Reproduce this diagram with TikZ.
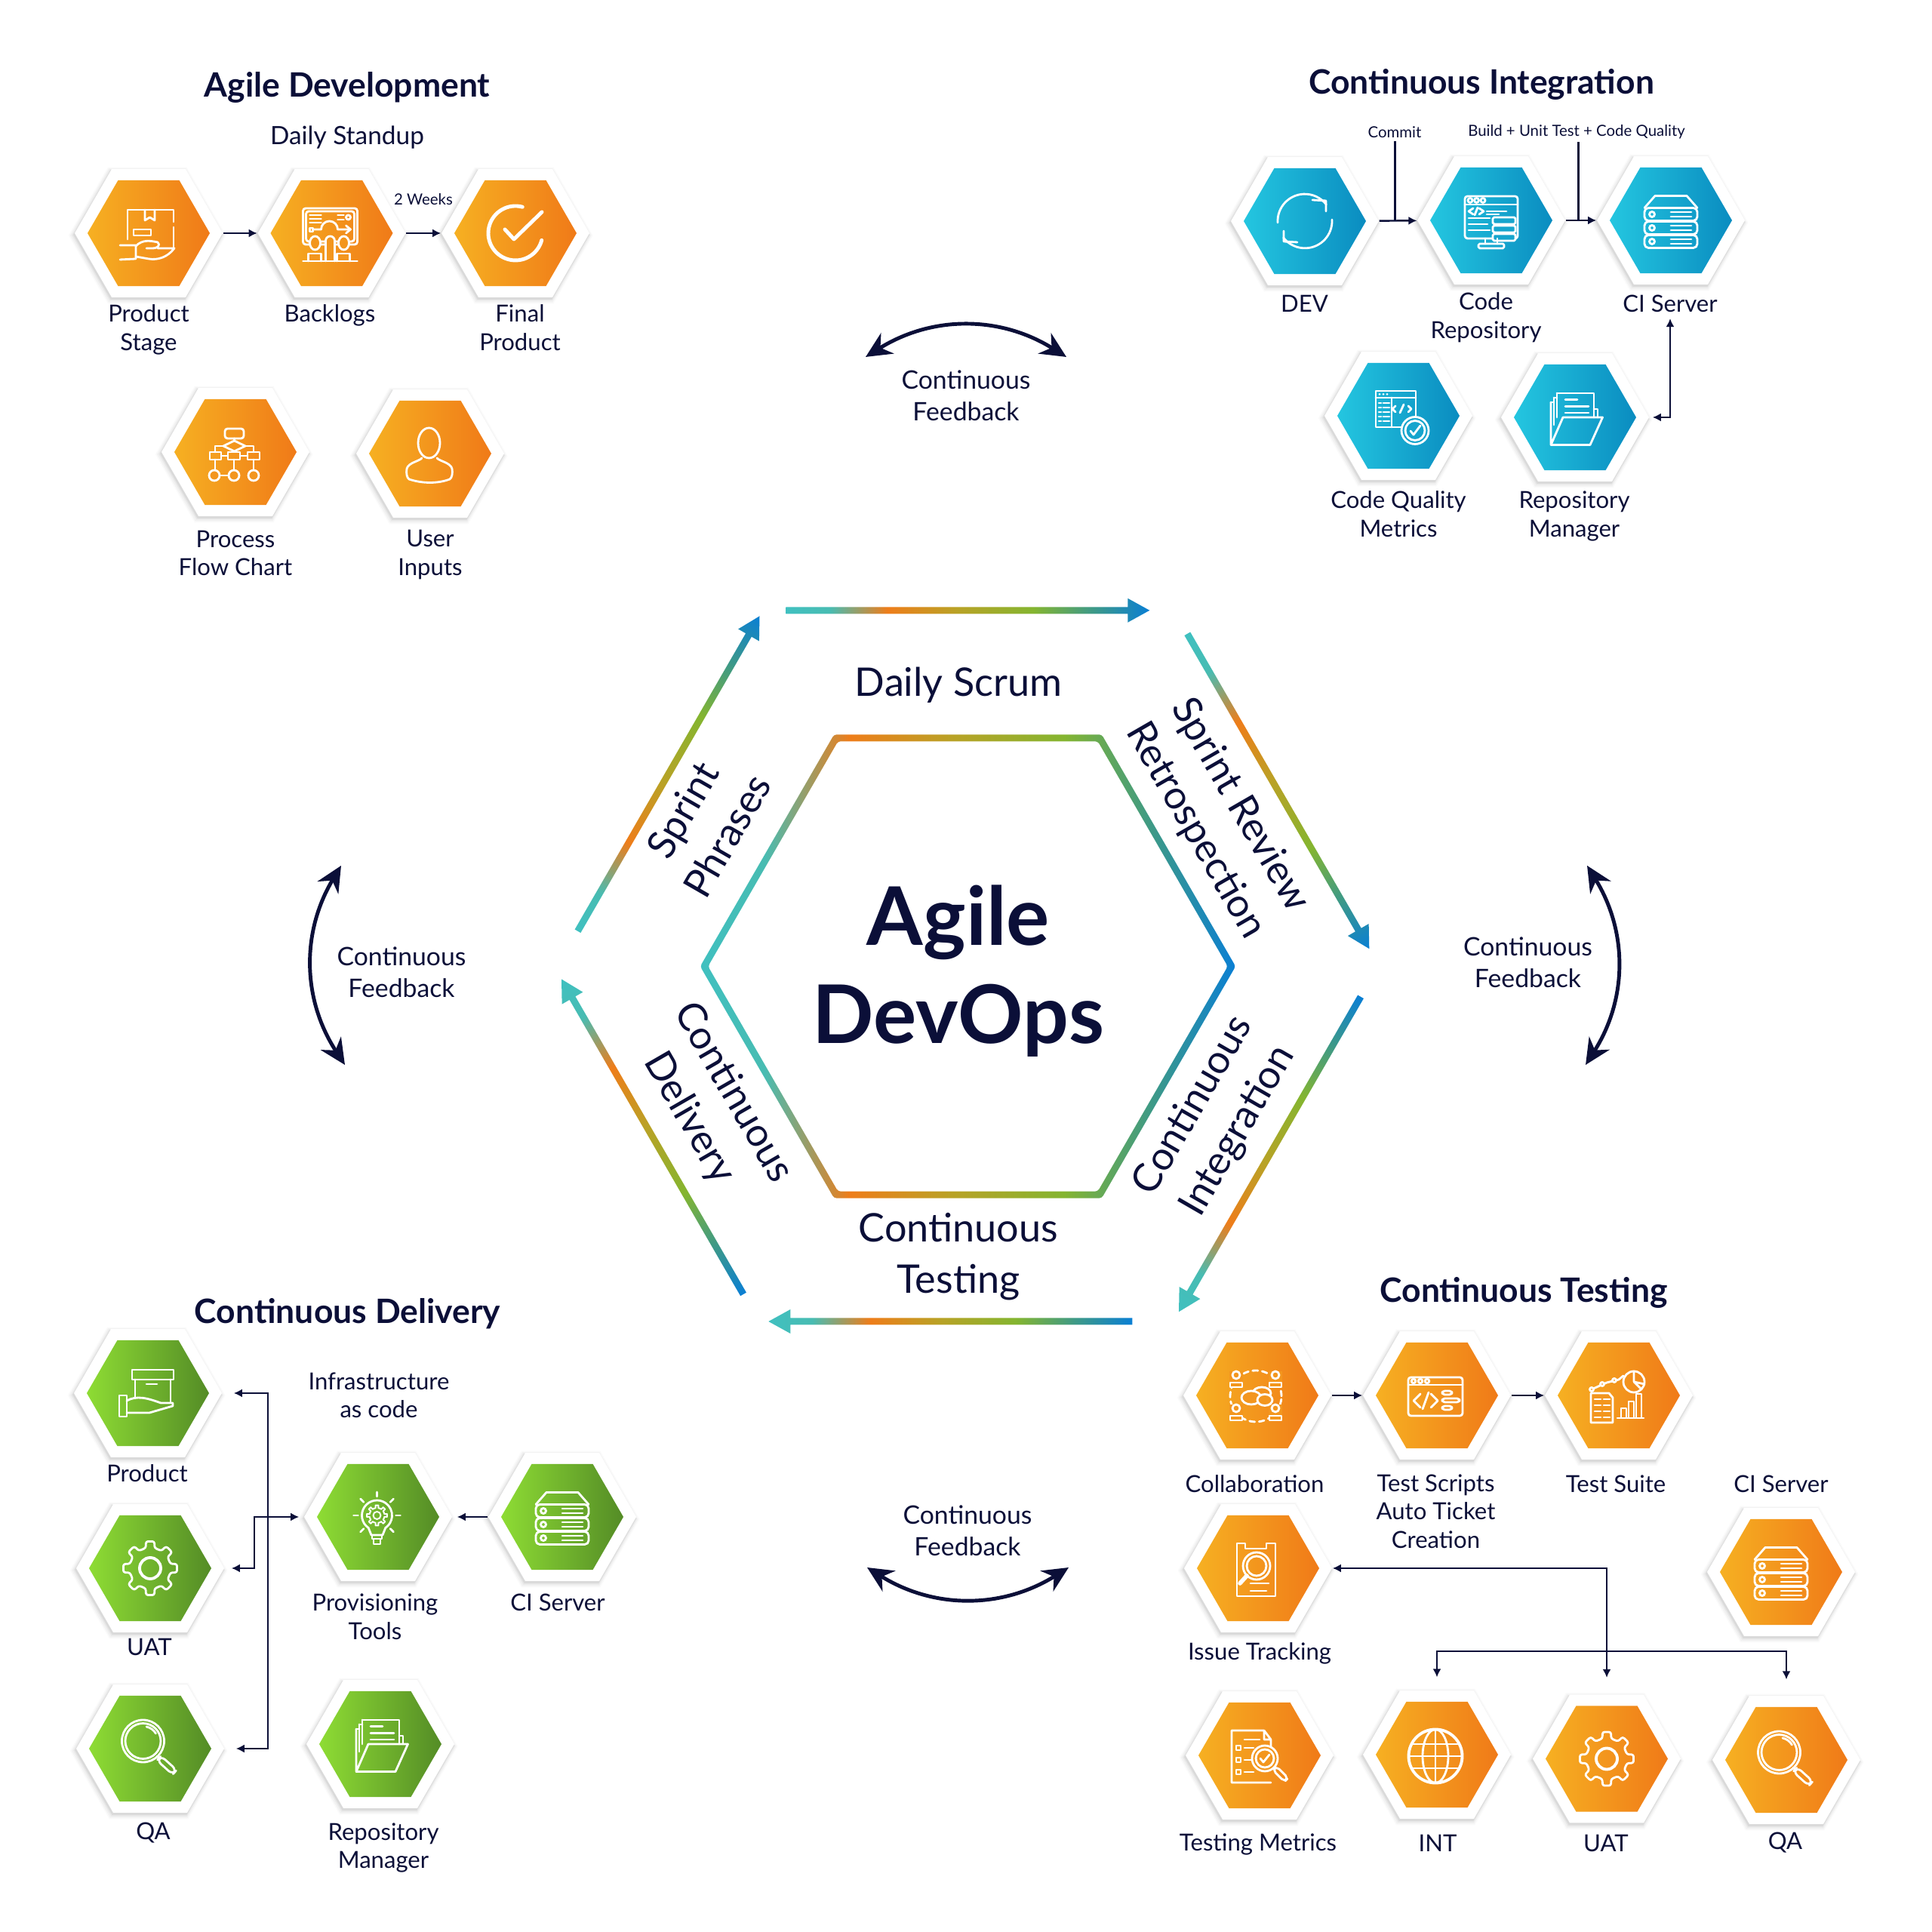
\documentclass[tikz,border=0pt]{standalone}
\usepackage{fontspec}
\setmainfont{Lato}
\usetikzlibrary{arrows.meta,shapes.geometric,shadows}
\definecolor{ink}{RGB}{11,15,56}
\definecolor{orangeA}{RGB}{246,176,34}
\definecolor{orangeB}{RGB}{240,122,24}
\definecolor{orangeM}{RGB}{243,150,30}
\definecolor{blueA}{RGB}{36,198,224}
\definecolor{blueB}{RGB}{10,140,192}
\definecolor{blueM}{RGB}{22,165,205}
\definecolor{greenA}{RGB}{142,220,52}
\definecolor{greenB}{RGB}{84,140,38}
\definecolor{flowteal}{RGB}{64,192,192}
\definecolor{flowmix}{RGB}{72,188,178}
\definecolor{floworange}{RGB}{238,125,26}
\definecolor{flowolive}{RGB}{185,162,38}
\definecolor{flowgreen}{RGB}{132,181,48}
\definecolor{flowsea}{RGB}{63,154,133}
\definecolor{flowblue}{RGB}{10,127,212}
\pgfdeclarehorizontalshading{flowgrad}{100bp}{color(0bp)=(flowteal); color(25bp)=(flowteal);
  color(31bp)=(flowmix); color(39bp)=(floworange); color(48.5bp)=(flowolive); color(59bp)=(flowgreen);
  color(67bp)=(flowsea); color(75bp)=(flowblue); color(100bp)=(flowblue)}
\tikzset{
  hexshell/.style={regular polygon,regular polygon sides=6,minimum size=1.96cm,inner sep=0pt,fill=white,
    drop shadow={shadow xshift=-.5pt,shadow yshift=-.8pt,shadow scale=1.065,opacity=.018,fill=black},
    drop shadow={shadow xshift=-.5pt,shadow yshift=-.8pt,shadow scale=1.045,opacity=.03,fill=black},
    drop shadow={shadow xshift=-.4pt,shadow yshift=-.7pt,shadow scale=1.025,opacity=.045,fill=black},
    drop shadow={shadow xshift=-.3pt,shadow yshift=-.6pt,shadow scale=1.01,opacity=.06,fill=black}},
  hexcore/.style={regular polygon,regular polygon sides=6,minimum size=1.62cm,inner sep=0pt},
  hexorange/.style={hexcore,left color=orangeA,right color=orangeB},
  hexblue/.style={hexcore,left color=blueA,right color=blueB},
  hexgreen/.style={hexcore,left color=greenA,right color=greenB},
  hexlabel/.style={text=ink,align=center,inner sep=0pt,font=\fontsize{8.85}{10.7}\selectfont},
  smalllabel/.style={text=ink,inner sep=1pt,font=\fontsize{5.8}{7}\selectfont},
  sectitle/.style={text=ink,inner sep=0pt,font=\fontsize{12.65}{15}\selectfont\bfseries},
  ringlabel/.style={text=ink,align=center,inner sep=0pt,font=\fontsize{14.85}{19.3}\selectfont},
  fblabel/.style={text=ink,align=center,inner sep=0pt,font=\fontsize{9.6}{12}\selectfont},
  conn/.style={ink,line width=.7pt,-{Latex[length=1.1mm,width=1.1mm]}},
  connboth/.style={ink,line width=.7pt,{Latex[length=1.1mm,width=1.1mm]}-{Latex[length=1.1mm,width=1.1mm]}},
  fbarrow/.style={ink,line width=1.4pt,{Stealth[length=3.4mm,width=3.2mm]}-{Stealth[length=3.4mm,width=3.2mm]}},
  iconline/.style={white,line width=.8pt,line cap=round,line join=round},
  iconserver/.pic={
    \draw (-.35,.165) -- (-.21,.325) -- (.21,.325) -- (.35,.165);
    \foreach \yy in {.08,-.1,-.28} {
      \draw[rounded corners=1.5pt] (-.35,\yy+.085) rectangle (.35,\yy-.085);
      \draw (-.25,\yy) circle (.035);
      \draw (0,\yy+.03) -- (.27,\yy+.03) (0,\yy-.03) -- (.27,\yy-.03);
    }},
  iconfolder/.pic={
    \draw (-.32,.2) -- (-.32,-.365) -- (.2,-.365) -- (.365,0) -- (-.16,0) -- (-.32,-.365);
    \draw (-.28,.26) -- (-.28,-.1) (-.24,.32) -- (-.24,0);
    \draw (-.28,.26) -- (-.24,.26) (-.32,.2) -- (-.28,.2);
    \draw (-.24,.32) -- (.25,.32) -- (.25,0) (.25,.11) -- (.3,.11) -- (.3,0);
    \draw (-.13,.235) -- (.03,.235) (-.13,.145) -- (.18,.145) (-.13,.06) -- (.18,.06);
    },
  icongear/.pic={
    \foreach \a in {0,45,...,315}
      \draw[rounded corners=.8pt] (\a-22.5:.27) -- (\a-12:.275) -- (\a-9:.36) -- (\a+9:.36) -- (\a+12:.275) -- (\a+22.5:.27);
    \draw[line width=1.1pt] (0,0) circle (.14);
    },
  iconlens/.pic={
    \draw (-.095,.1) circle (.28);
    \draw (-.095,.1) circle (.235);
    \draw (-.05,.29) arc (78:30:.19);
    \draw (.09,-.1) -- (.13,-.14);
    \begin{scope}[shift={(.22,-.22)},rotate=-42]
      \draw[rounded corners=2pt] (-.14,-.04) rectangle (.14,.04);
    \end{scope}
    },
  iconboxhand/.pic={
    \draw (-.28,-.08) -- (-.28,.31) -- (.33,.31) -- (.33,.15) (.33,.08) -- (.33,-.2);
    \draw (-.05,.31) -- (-.05,.17) -- (.015,.21) -- (.08,.17) -- (.08,.31);
    \draw (-.2,.05) rectangle (.03,-.03);
    \draw (-.38,-.16) -- (-.17,-.16) -- (-.17,-.34) -- (-.38,-.35);
    \draw (-.17,-.17) .. controls (-.08,-.08) and (.02,-.1) .. (.12,-.12) .. controls (.16,-.16) and (.12,-.2) .. (.05,-.2) -- (-.03,-.2);
    \draw (.12,-.2) -- (.34,-.2) .. controls (.25,-.32) and (.12,-.36) .. (0,-.34) -- (-.17,-.31);
    },
  iconboard/.pic={
    \draw[rounded corners=1pt] (-.38,.33) rectangle (.34,-.15);
    \draw[rounded corners=1pt] (-.34,.29) rectangle (.3,-.11);
    \draw (-.29,.24) -- (-.14,.24) (-.29,.19) -- (-.14,.19) (-.29,.14) -- (-.14,.14);
    \draw (.08,.24) -- (.16,.24) (.08,.18) -- (.16,.18);
    \draw (.22,.21) circle (.03);
    \draw (-.29,.07) rectangle (-.25,.02);
    \draw (-.25,.05) -- (-.14,.05) arc (180:0:.11) -- (.24,.05);
    \draw (.19,.1) -- (.25,.05) -- (.19,0);
    \draw[fill=orangeM] (-.31,-.37) -- (-.31,-.27) -- (-.14,-.27) -- (-.14,-.37);
    \draw[fill=orangeM] (.07,-.37) -- (.07,-.27) -- (.24,-.27) -- (.24,-.37);
    \draw[fill=orangeM] (-.22,-.13) ellipse (.07 and .09);
    \draw[fill=orangeM] (.16,-.13) ellipse (.07 and .09);
    \draw[fill=orangeM] (-.08,-.37) -- (-.08,-.1) arc (180:0:.06) -- (.04,-.37);
    \draw (-.38,-.37) -- (.34,-.37);
    },
  iconcheck/.pic={
    \draw[line width=1.4pt] (75:.36) arc (75:345:.36);
    \draw[line width=1.4pt] (-.14,.05) -- (-.02,-.08) -- (.35,.28);
    },
  iconflow/.pic={
    \draw[rounded corners=1pt] (-.14,.31) rectangle (.11,.18);
    \draw (-.015,.18) -- (-.015,.15);
    \draw (-.16,.08) -- (-.015,.15) -- (.13,.08) -- (-.015,.01) -- cycle;
    \draw (-.34,0) rectangle (-.19,-.1);
    \draw (-.1,0) rectangle (.06,-.1);
    \draw (.16,0) rectangle (.32,-.1);
    \draw (-.27,0) -- (-.27,.08) -- (-.16,.08) (.13,.08) -- (.24,.08) -- (.24,0);
    \draw (-.19,-.05) -- (-.1,-.05) (.06,-.05) -- (.16,-.05);
    \draw (-.27,-.1) -- (-.27,-.24) (.24,-.1) -- (.24,-.24) (-.02,-.1) -- (-.02,-.24);
    \foreach \x in {-.28,-.02,.24} \draw[fill=orangeM] (\x,-.31) circle (.07);
    \draw (-.21,-.31) -- (-.09,-.31);
    },
  iconuser/.pic={
    \draw (-.015,.14) ellipse (.145 and .2);
    \draw (-.11,-.06) .. controls (-.14,-.1) and (-.29,-.12) .. (-.31,-.2) .. controls (-.32,-.26) and (-.31,-.32) .. (-.28,-.34) .. controls (-.1,-.4) and (.1,-.4) .. (.26,-.34) .. controls (.29,-.32) and (.3,-.26) .. (.29,-.2) .. controls (.27,-.12) and (.12,-.1) .. (.09,-.06);
    },
  iconsync/.pic={
    \foreach \ang in {0,180} {
      \draw[rotate=\ang] (-.36,-.02) arc (183:38:.36);
      \draw[rotate=\ang] (.1,.28) -- (.28,.27) -- (.28,.13);
    }},
  iconcode/.pic={
    \draw[rounded corners=1pt] (-.35,.32) rectangle (.35,-.24);
    \draw (-.35,.21) -- (.35,.21);
    \foreach \x in {-.28,-.195,-.11} \draw (\x,.265) circle (.03);
    \draw (-.24,.16) -- (-.3,.12) -- (-.24,.08) (-.16,.16) -- (-.1,.12) -- (-.16,.08) (-.22,.07) -- (-.18,.17);
    \draw (-.06,.12) -- (.2,.12) (-.06,.08) -- (.1,.08) (-.3,.03) -- (-.02,.03) (-.3,-.05) -- (-.05,-.05) (-.3,-.13) -- (-.02,-.13);
    \foreach \yy in {0,-.11,-.22} \draw[fill=blueM,rounded corners=.5pt] (.02,\yy+.04) rectangle (.32,\yy-.05);
    \draw (-.08,-.24) -- (-.08,-.31) (.08,-.24) -- (.08,-.31);
    \draw[rounded corners=.5pt] (-.17,-.31) rectangle (.17,-.37);
    },
  iconmetricwin/.pic={
    \draw (-.3,.33) rectangle (.23,-.15);
    \draw (-.3,.24) -- (.23,.24) (-.09,.24) -- (-.09,-.15);
    \foreach \x in {-.25,-.2,-.15} \fill (\x,.285) circle (.015);
    \foreach \yy in {.17,.11,.05,-.01,-.07} \draw (-.26,\yy) -- (-.23,\yy) (-.2,\yy) -- (-.12,\yy);
    \draw (-.04,.13) -- (-.08,.09) -- (-.04,.05) (.13,.13) -- (.17,.09) -- (.13,.05) (.02,.04) -- (.07,.15);
    \draw[fill=blueM] (.22,-.195) circle (.18);
    \draw (.22,-.195) circle (.13);
    \draw (.16,-.2) -- (.2,-.25) -- (.29,-.13);
    },
  iconopenbox/.pic={
    \draw (-.21,.31) rectangle (.34,.18);
    \draw (-.17,.18) -- (-.17,-.07) (.3,.18) -- (.3,-.12);
    \draw (-.02,.12) -- (.12,.12);
    \draw (-.38,-.03) rectangle (-.28,-.31);
    \draw (-.28,-.1) .. controls (-.15,-.03) and (-.02,-.06) .. (.17,-.13) -- (.33,-.13) -- (.33,-.17) -- (.02,-.26) -- (-.28,-.26);
    },
  iconbulb/.pic={
    \draw (-.015,.02) ++(235:.2) arc (235:-55:.2);
    \draw (-.13,-.14) -- (-.09,-.24) -- (.06,-.24) -- (.1,-.14);
    \draw (-.08,-.24) rectangle (.05,-.29);
    \draw (-.06,-.29) rectangle (.03,-.36);
    \foreach \a in {-45,0,45,90,135,180,225} \draw (-.015,.02) ++(\a:.25) -- ++(\a:.06);
    \begin{scope}[shift={(-.015,.02)},line width=.55pt]
      \foreach \a in {0,45,...,315}
        \draw (\a-22.5:.1) -- (\a-10:.1) -- (\a-8:.135) -- (\a+8:.135) -- (\a+10:.1) -- (\a+22.5:.1);
      \draw (0,0) circle (.05);
    \end{scope}
    },
  iconcollab/.pic={
    \draw[dash pattern=on 2pt off 1.6pt] (-.02,-.01) circle (.34);
    \foreach \x/\yy in {-.28/.2,.24/.2,-.28/-.24,.24/-.24} {
      \fill[orangeM] (\x-.09,\yy-.1) rectangle (\x+.09,\yy+.12);
      \draw (\x,\yy+.07) circle (.05);
      \draw (\x-.08,\yy-.09) -- (\x-.08,\yy-.03) -- (\x+.08,\yy-.03) -- (\x+.08,\yy-.09) -- cycle;
    }
    \draw (.06,.03) ellipse (.12 and .08);
    \draw[fill=orangeM] (-.08,-.03) ellipse (.13 and .09);
    \draw[fill=orangeM] (.1,-.06) ellipse (.1 and .075);
    },
  icontestwin/.pic={
    \draw[rounded corners=1pt] (-.38,.24) rectangle (.34,-.27);
    \draw (-.38,.14) -- (.34,.14);
    \foreach \x in {-.31,-.22,-.13} \draw (\x,.19) circle (.028);
    \draw (-.22,.02) -- (-.31,-.07) -- (-.22,-.16) (-.08,.02) -- (.01,-.07) -- (-.08,-.16) (-.19,-.18) -- (-.11,.04);
    \draw[rounded corners=1pt] (.07,.06) rectangle (.2,.01) (.07,-.04) rectangle (.3,-.09) (.07,-.14) rectangle (.2,-.19);
    },
  icontestsuite/.pic={
    \draw (.2,.18) circle (.14);
    \draw (.2,.18) -- (.2,.32) (.2,.18) -- (.34,.15) (.2,.18) -- (.3,.08);
    \draw (-.36,.08) -- (-.16,.17) -- (0,.21) -- (.06,.26);
    \foreach \x/\yy in {-.36/.08,-.22/.15,-.06/.2} \draw[fill=orangeM] (\x,\yy) circle (.025);
    \draw (-.02,-.3) -- (.33,-.3);
    \foreach \x/\yy in {.03/-.17,.13/-.08,.23/.02} \draw (\x,-.3) rectangle (\x+.07,\yy);
    \draw[fill=orangeM] (-.37,.03) -- (-.13,.03) -- (-.08,-.03) -- (-.08,-.36) -- (-.37,-.36) -- cycle;
    \foreach \yy in {-.05,-.13,-.21,-.29} \draw (-.32,\yy) -- (-.24,\yy) (-.2,\yy) -- (-.12,\yy);
    },
  iconissue/.pic={
    \draw (-.28,.33) -- (-.17,.33) -- (-.17,.26) -- (.11,.26) -- (.11,.33) -- (.23,.33) -- (.23,-.37) -- (-.28,-.37) -- cycle;
    \draw (-.02,.03) circle (.18);
    \draw (-.02,.03) circle (.13);
    \draw[line width=1.6pt] (-.15,-.1) -- (-.24,-.2);
    \draw (-.1,-.2) -- (.14,-.2) (-.1,-.3) -- (.11,-.3);
    },
  iconmetric/.pic={
    \draw (.06,.33) -- (-.37,.33) -- (-.37,-.36) -- (.15,-.36) (.06,.33) -- (.06,.21) -- (.15,.21) -- (.06,.33) (.15,.21) -- (.15,.07);
    \foreach \yy in {.1,-.06,-.22} {
      \draw (-.31,\yy+.03) rectangle (-.25,\yy-.03);
      \draw (-.2,\yy) -- (-.08,\yy);
    }
    \draw (-.2,.21) -- (0,.21);
    \draw[fill=orangeM] (.07,-.04) circle (.17);
    \draw (.07,-.04) circle (.12);
    \draw (.01,-.04) -- (.05,-.09) -- (.13,.01);
    \begin{scope}[shift={(.27,-.24)},rotate=-45]
      \draw[rounded corners=1.5pt] (-.1,-.035) rectangle (.12,.035);
    \end{scope}
    },
  iconglobe/.pic={
    \draw[line width=1.1pt] (-.02,-.02) circle (.355);
    \draw (-.02,-.02) ellipse (.17 and .355);
    \draw (-.02,.335) -- (-.02,-.375);
    \draw (-.375,-.02) -- (.335,-.02);
    \draw (-.33,.14) -- (.29,.14) (-.33,-.18) -- (.29,-.18);
    },
}
\newcommand{\hexcell}[4]{%
  \node[hexshell] (#1) at (#2) {};
  \node[#3] (#1core) at (#2) {};
  \pic[iconline] at (#2) {#4};}
\newcommand{\flowfwd}[4]{%
  \node[rotate=#3,inner sep=0pt] (#1) at (#2) {\tikz\shade[shading=flowgrad]
    (0,-.045) -- (#4-.29,-.045) -- (#4-.29,-.16) -- (#4,0) -- (#4-.29,.16) -- (#4-.29,.045) -- (0,.045) -- cycle;};}
\newcommand{\flowrev}[4]{%
  \node[rotate=#3,inner sep=0pt] (#1) at (#2) {\tikz\shade[shading=flowgrad]
    (#4,-.045) -- (.29,-.045) -- (.29,-.16) -- (0,0) -- (.29,.16) -- (.29,.045) -- (#4,.045) -- cycle;};}
\begin{document}
\begin{tikzpicture}
  \useasboundingbox (0,0) rectangle (25.6,25.6);
  % centre ring
  \begin{scope}[shift={(12.825,12.795)}]
    \shade[shading=flowgrad,even odd rule,rounded corners=1pt]
      (0:3.547) -- (60:3.547) -- (120:3.547) -- (180:3.547) -- (240:3.547) -- (300:3.547) -- cycle
      (0:3.443) -- (60:3.443) -- (120:3.443) -- (180:3.443) -- (240:3.443) -- (300:3.443) -- cycle;
  \end{scope}
  \node[text=ink,align=center,inner sep=0pt,font=\fontsize{30.5}{37}\selectfont\bfseries] (agile) at (12.70,12.73) {Agile\\DevOps};
  \flowfwd{flowtop}{12.823,17.512}{0}{4.82}
  \flowfwd{flowru}{16.938,15.115}{-60}{4.82}
  \flowrev{flowrl}{16.825,10.305}{60}{4.82}
  \flowrev{flowbot}{12.593,8.09}{0}{4.82}
  \flowrev{flowll}{8.645,10.538}{-60}{4.82}
  \flowfwd{flowlu}{8.86,15.349}{60}{4.82}
  \node[ringlabel] (scrum) at (12.70,16.52) {Daily Scrum};
  \node[ringlabel] (testing) at (12.70,8.95) {Continuous\\Testing};
  \node[ringlabel,rotate=-60] (review) at (16.13,14.76) {Sprint Review\\Retrospection};
  \node[ringlabel,rotate=60] (sprint) at (9.34,14.70) {Sprint\\Phrases};
  \node[ringlabel,rotate=-60] (delivery) at (9.42,10.95) {Continuous\\Delivery};
  \node[ringlabel,rotate=60] (integ) at (16.11,10.78) {Continuous\\Integration};
  % feedback arrows
  \coordinate (fbtl) at (11.47,20.87);
  \coordinate (fbtr) at (14.13,20.87);
  \coordinate (fbbl) at (11.49,4.83);
  \coordinate (fbbr) at (14.16,4.83);
  \coordinate (fbla) at (4.52,14.13);
  \coordinate (fblb) at (4.57,11.49);
  \coordinate (fbra) at (21.03,14.13);
  \coordinate (fbrb) at (21.01,11.49);
  \draw[fbarrow] (fbtl) to[bend left=32] (fbtr);
  \draw[fbarrow] (fbbl) to[bend right=32] (fbbr);
  \draw[fbarrow] (fbla) to[bend right=32] (fblb);
  \draw[fbarrow] (fbra) to[bend left=32] (fbrb);
  \node[fblabel] (fbtop) at (12.80,20.36) {Continuous\\Feedback};
  \node[fblabel] (fbbot) at (12.82,5.32) {Continuous\\Feedback};
  \node[fblabel] (fbleft) at (5.32,12.72) {Continuous\\Feedback};
  \node[fblabel] (fbright) at (20.245,12.85) {Continuous\\Feedback};
  % agile development
  \node[sectitle] (adtitle) at (4.60,24.44) {Agile Development};
  \node[hexlabel,font=\fontsize{9.5}{11}\selectfont] (adstand) at (4.60,23.78) {Daily Standup};
  \hexcell{adstage}{1.97,22.51}{hexorange}{iconboxhand}
  \hexcell{adback}{4.395,22.51}{hexorange}{iconboard}
  \hexcell{adfinal}{6.83,22.51}{hexorange}{iconcheck}
  \hexcell{adflow}{3.12,19.61}{hexorange}{iconflow}
  \hexcell{aduser}{5.70,19.59}{hexorange}{iconuser}
  \node[hexlabel] (adstagel) at (1.97,21.23) {Product\\Stage};
  \node[hexlabel] (adbackl) at (4.37,21.42) {Backlogs};
  \node[hexlabel] (adfinall) at (6.89,21.26) {Final\\Product};
  \node[hexlabel] (adflowl) at (3.12,18.27) {Process\\Flow Chart};
  \node[hexlabel] (aduserl) at (5.70,18.25) {User\\Inputs};
  \node[smalllabel] (adweeks) at (5.61,22.96) {2 Weeks};
  \draw[conn] (adstage) -- (adback);
  \draw[conn] (adback) -- (adfinal);
  % continuous integration
  \node[sectitle] (cititle) at (19.63,24.48) {Continuous Integration};
  \hexcell{cidev}{17.29,22.67}{hexblue}{iconsync}
  \hexcell{cirepo}{19.76,22.68}{hexblue}{iconcode}
  \hexcell{ciserver}{22.14,22.68}{hexblue}{iconserver}
  \hexcell{ciqual}{18.53,20.09}{hexblue}{iconmetricwin}
  \hexcell{cimgr}{20.87,20.07}{hexblue}{iconfolder}
  \node[hexlabel] (cidevl) at (17.285,21.58) {DEV};
  \node[hexlabel] (cirepol) at (19.69,21.39) {Code\\Repository};
  \node[hexlabel] (ciserverl) at (22.13,21.58) {CI Server};
  \node[hexlabel] (ciquall) at (18.53,18.79) {Code Quality\\Metrics};
  \node[hexlabel] (cimgrl) at (20.86,18.76) {Repository\\Manager};
  \node[smalllabel] (cicommit) at (18.48,23.85) {Commit};
  \node[smalllabel] (cibuild) at (20.89,23.85) {Build + Unit Test + Code Quality};
  \coordinate (cicommitend) at (18.487,22.67);
  \coordinate (cibuildend) at (20.915,22.68);
  \draw[conn] (cidev) -- (cirepo);
  \draw[conn] (cirepo) -- (ciserver);
  \draw[ink,line width=.7pt] (cicommit.south -| cicommitend) -- (cicommitend);
  \draw[ink,line width=.7pt] (cibuild.south -| cibuildend) -- (cibuildend);
  \draw[connboth,shorten <=.4mm,shorten >=.8mm] (cimgr) -| (ciserverl);
  % continuous delivery
  \node[sectitle] (cdtitle) at (4.605,8.19) {Continuous Delivery};
  \hexcell{cdprod}{1.96,7.14}{hexgreen}{iconopenbox}
  \hexcell{cduat}{1.99,4.82}{hexgreen}{icongear}
  \hexcell{cdqa}{1.99,2.43}{hexgreen}{iconlens}
  \hexcell{cdprov}{5.01,5.50}{hexgreen}{iconbulb}
  \hexcell{cdci}{7.45,5.50}{hexgreen}{iconserver}
  \hexcell{cdmgr}{5.04,2.49}{hexgreen}{iconfolder}
  \node[hexlabel] (cdprodl) at (1.95,6.075) {Product};
  \node[hexlabel] (cduatl) at (1.98,3.78) {UAT};
  \node[hexlabel] (cdqal) at (2.03,1.31) {QA};
  \node[hexlabel] (cdinfra) at (5.02,7.11) {Infrastructure\\as code};
  \node[hexlabel] (cdprovl) at (4.97,4.18) {Provisioning\\Tools};
  \node[hexlabel] (cdcil) at (7.39,4.365) {CI Server};
  \node[hexlabel] (cdmgrl) at (5.08,1.115) {Repository\\Manager};
  \coordinate (cdtrunk) at (3.55,5.50);
  \coordinate (cdknee) at (3.37,5.50);
  \draw[connboth,shorten <=1.5mm,shorten >=1.5mm] (cdprod) -| (cdtrunk) |- (cdqa);
  \draw[connboth,shorten <=.9mm,shorten >=.6mm] (cduat) -| (cdknee) |- (cdprov);
  \draw[conn,shorten >=.6mm] (cdci) -- (cdprov);
  % continuous testing
  \node[sectitle] (cttitle) at (20.19,8.47) {Continuous Testing};
  \hexcell{ctcoll}{16.66,7.11}{hexorange}{iconcollab}
  \hexcell{ctscripts}{19.04,7.11}{hexorange}{icontestwin}
  \hexcell{ctsuite}{21.45,7.11}{hexorange}{icontestsuite}
  \hexcell{ctissue}{16.67,4.82}{hexorange}{iconissue}
  \hexcell{ctserver}{23.60,4.77}{hexorange}{iconserver}
  \hexcell{ctmetrics}{16.69,2.34}{hexorange}{iconmetric}
  \hexcell{ctint}{19.04,2.35}{hexorange}{iconglobe}
  \hexcell{ctuat}{21.29,2.295}{hexorange}{icongear}
  \hexcell{ctqa}{23.67,2.28}{hexorange}{iconlens}
  \node[hexlabel] (ctcolll) at (16.625,5.94) {Collaboration};
  \node[hexlabel] (ctscriptsl) at (19.025,5.575) {Test Scripts\\Auto Ticket\\Creation};
  \node[hexlabel] (ctsuitel) at (21.41,5.94) {Test Suite};
  \node[hexlabel] (ctserverl) at (23.60,5.94) {CI Server};
  \node[hexlabel] (ctissuel) at (16.69,3.69) {Issue Tracking};
  \node[hexlabel] (ctmetricsl) at (16.67,1.165) {Testing Metrics};
  \node[hexlabel] (ctintl) at (19.05,1.18) {INT};
  \node[hexlabel] (ctuatl) at (21.28,1.18) {UAT};
  \node[hexlabel] (ctqal) at (23.655,1.18) {QA};
  \coordinate (ctbus) at (21.29,3.72);
  \draw[conn] (ctcoll) -- (ctscripts);
  \draw[conn] (ctscripts) -- (ctsuite);
  \draw[connboth,shorten >=2.2mm] (ctissue) -| (ctuat);
  \draw[connboth,shorten <=1.7mm,shorten >=2.1mm] (ctint) |- (ctbus) -| (ctqa);
\end{tikzpicture}
\end{document}
